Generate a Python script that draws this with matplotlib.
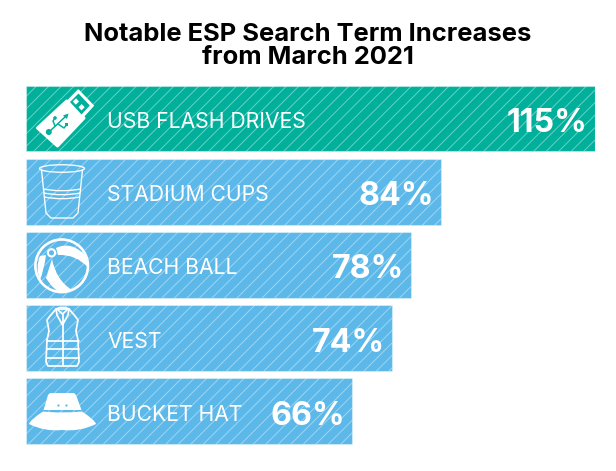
import matplotlib
matplotlib.use("Agg")
import numpy as np
import matplotlib.pyplot as plt
from matplotlib.patches import Polygon, Circle, Ellipse, PathPatch
from matplotlib.path import Path
from matplotlib.collections import LineCollection
from matplotlib.transforms import Affine2D

categories = ["USB FLASH DRIVES", "STADIUM CUPS", "BEACH BALL", "VEST", "BUCKET HAT"]
values = [115, 84, 78, 74, 66]
bar_colors = ["#00B09B", "#5BB8E8", "#5BB8E8", "#5BB8E8", "#5BB8E8"]
value_labels = ["115%", "84%", "78%", "74%", "66%"]
title = "Notable ESP Search Term Increases\nfrom March 2021"

W, H, DPI = 616, 471, 100
fig = plt.figure(figsize=(W / DPI, H / DPI), dpi=DPI, facecolor="white")
ax = fig.add_axes([25.5 / W, 1 - 447.9 / H, 569 / W, 366 / H])
ypos = np.arange(len(categories))
bars = ax.barh(ypos, values, height=0.9, color=bar_colors, edgecolor=(1, 1, 1, 0.35), linewidth=0.8)
ax.set_xlim(0, 115)
ax.set_ylim(4.5, -0.5)
ax.axis("off")

px = Affine2D().scale(1 / W, -1 / H).translate(0, 1) + fig.transFigure

# diagonal stripes, clipped to each bar
stripes = [[(x, 470), (x + 470, 0)] for x in np.arange(-460, 620, 12.5)]
for b in bars:
    lc = LineCollection(stripes, colors=[(1, 1, 1, 0.4)], linewidths=0.72, transform=px, zorder=3)
    ax.add_collection(lc, autolim=False)
    lc.set_clip_path(b)

LABEL = dict(family="Inter", color="white", va="center_baseline", zorder=6)
for y, c in zip(ypos, categories):
    ax.annotate(c, (0, y), xytext=(81.5 * 72 / DPI, -1.5 * 72 / DPI), textcoords="offset points",
                ha="left", fontsize=15.2, fontweight="normal", **LABEL)
for y, val, v in zip(ypos, values, value_labels):
    ax.annotate(v, (val, y), xytext=(-7 * 72 / DPI, -1.5 * 72 / DPI), textcoords="offset points",
                ha="right", fontsize=23.2, fontweight="bold", **LABEL)
fig.text(308 / W, 1 - 46 / H, title, ha="center", va="center", fontsize=18.4,
         fontweight="bold", family="Inter", color="black", linespacing=1.0)

# decorative icons, drawn in pixel space
def add(p):
    p.set_transform(px); p.set_clip_on(False); p.set_zorder(5); fig.add_artist(p); return p
def line(pts, lw=1.0, c="white"):
    add(PathPatch(Path(pts), fill=False, ec=c, lw=lw, capstyle="round", joinstyle="round"))
def poly(pts, fc="white", ec="none", lw=0):
    add(Polygon(pts, closed=True, fc=fc, ec=ec, lw=lw, joinstyle="round"))
def curve(verts, codes, fc="white"):
    add(PathPatch(Path(verts, codes), fc=fc, ec="none", lw=0))

GREEN, BLUE = bar_colors[0], bar_colors[1]
M, L, C3 = Path.MOVETO, Path.LINETO, Path.CURVE3

# USB
poly([(66.7, 101), (84, 118), (57.5, 146), (37.5, 128)], ec="white", lw=2.2)
poly([(78.3, 90), (93.3, 105.7), (81.7, 118.3), (66.7, 101.7)], ec="white", lw=1)
poly([(78.5, 93.5), (89.8, 105.5), (81.5, 114.5), (70, 102)], fc=GREEN)
poly([(72.8, 101.5), (76, 98.3), (79, 101.5), (75.8, 104.7)])
poly([(78.5, 107.2), (81.7, 104), (84.7, 107.2), (81.5, 110.4)])
tlw = 1.5 * 72 / DPI
line([(49, 132), (65.5, 116.5)], tlw, GREEN)
line([(55, 126), (53, 121), (55, 118)], tlw, GREEN)
line([(58, 124), (64, 128), (66.5, 125)], tlw, GREEN)
add(Circle((48.8, 132), 3.0, fc=GREEN, ec="none"))
add(Circle((55, 118), 1.8, fc=GREEN, ec="none"))
poly([(63, 115.5), (68.5, 113.5), (67, 119)], fc=GREEN)
poly([(64.7, 123), (68, 123), (68, 126.3), (64.7, 126.3)], fc=GREEN)

# Cup
clw = 0.95
add(Ellipse((62, 168.5), 45, 7.5, fc="none", ec="white", lw=clw))
line([(41.5, 170), (46, 213), (51, 218), (73, 218), (78, 213), (82.5, 170)], clw)
for yy, dx in [(189, 0), (193, 0.4), (197, 0.8)]:
    verts = [(43.5 + dx, yy), (62, yy + 3.5), (80.5 - dx, yy)]
    add(PathPatch(Path(verts, [M, C3, C3]), fill=False, ec="white", lw=clw))

# Beach ball
add(Circle((61.7, 265.8), 26.3, fc="none", ec="white", lw=1.9))
curve([(56, 248), (72, 240), (88, 258), (88.5, 268), (76, 254), (58, 255), (56, 248)],
      [M, C3, C3, L, C3, C3, L])
curve([(46, 255), (44, 270), (40, 280), (35, 268), (40, 256), (46, 255)],
      [M, C3, C3, C3, C3, L])
curve([(52, 259), (56, 280), (72, 290), (62, 293), (54, 291), (46, 278), (52, 259)],
      [M, C3, C3, L, C3, C3, L])
add(Circle((51.5, 252.8), 3.6, fc=BLUE, ec="white", lw=1.5))

# Vest
vlw = 1.25
outline = [(56, 309), (50, 316), (47, 320), (49, 331), (47, 340), (46, 362), (48, 366),
           (77, 366), (79, 362), (78, 340), (76, 331), (78, 320), (75, 316), (69, 309)]
add(Polygon(outline, closed=True, fc="none", ec="white", lw=vlw, joinstyle="round"))
line([(56, 309), (57, 315), (62.5, 325), (68, 315), (69, 309)], vlw)
line([(56, 309), (60, 307.5), (65, 307.5), (69, 309)], vlw)
line([(58, 310), (62.5, 314), (67, 310)], vlw)
line([(62.5, 314), (62.5, 366)], vlw)
for yy in (341, 349, 358):
    line([(46.5, yy), (78.5, yy)], vlw)

# Hat
poly([(48, 395), (50, 393), (74, 393), (76, 395), (81.5, 410), (43.5, 410)])
curve([(43, 411.5), (30, 420), (29, 424), (45, 432), (62, 430), (80, 432), (96, 424), (95, 420), (82, 411.5), (62, 413.5), (43, 411.5)],
      [M, C3, C3, C3, C3, C3, C3, C3, C3, C3, C3])
add(Circle((58.5, 405.5), 1.1, fc=BLUE, ec="none"))
add(Circle((66.5, 405.5), 1.1, fc=BLUE, ec="none"))

fig.savefig("out.png", dpi=DPI, facecolor="white")
